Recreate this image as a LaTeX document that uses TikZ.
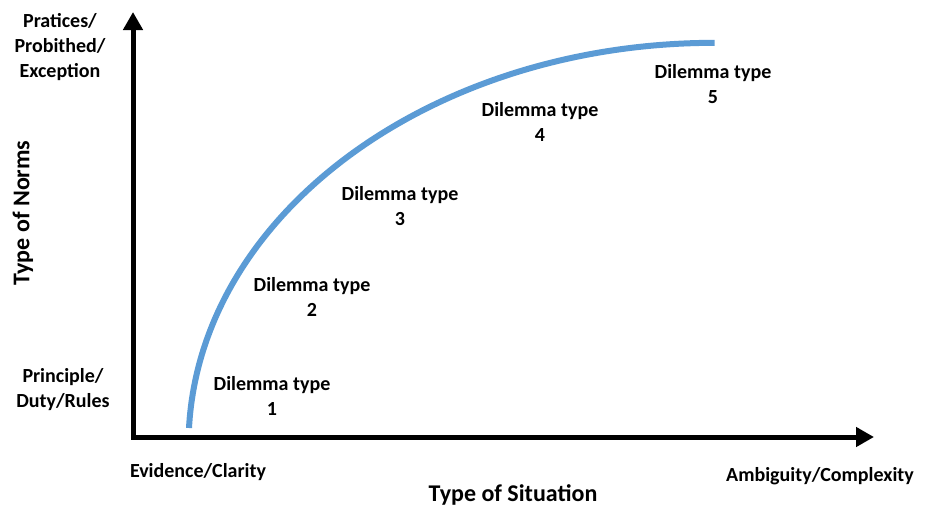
\documentclass[tikz,border=0pt]{standalone}
\usepackage{fontspec}
\setmainfont{Carlito}
\usetikzlibrary{arrows.meta}
\definecolor{curveblue}{HTML}{5B9BD5}
\tikzset{
  lbl/.style={font=\fontsize{20}{25}\selectfont\bfseries, align=center, inner sep=0pt},
  title/.style={font=\fontsize{24}{29}\selectfont\bfseries, align=center, inner sep=0pt},
  axis/.style={line width=5pt, {Triangle[length=18pt,width=19pt]}-{Triangle[length=18pt,width=19pt]}},
  curve/.style={line width=6pt, curveblue}
}
\begin{document}
\begin{tikzpicture}[x=1pt,y=-1pt]
\useasboundingbox (0,0) rectangle (928,506);
\coordinate (ytip) at (133,12);
\coordinate (xtip) at (874,437);
\draw[axis] (ytip) |- (xtip);
\coordinate (cstart) at (189,428);
\draw[curve] (cstart) arc[start angle=182.4, end angle=270, x radius=526, y radius=402];
\node[lbl] (top) at (60,47) {Pratices/\\Probithed/\\Exception};
\node[lbl] (bot) at (63,390) {Principle/\\Duty/Rules};
\node[title, rotate=90] (norms) at (23,213) {Type of Norms};
\node[lbl] (evid) at (198,472) {Evidence/Clarity};
\node[lbl] (ambi) at (820,476) {Ambiguity/Complexity};
\node[title] (sit) at (513,495) {Type of Situation};
\node[lbl] (d1) at (272,396) {Dilemma type\\1};
\node[lbl] (d2) at (312,297) {Dilemma type\\2};
\node[lbl] (d3) at (400,206) {Dilemma type\\3};
\node[lbl] (d4) at (540,122) {Dilemma type\\4};
\node[lbl] (d5) at (713,84) {Dilemma type\\5};
\end{tikzpicture}
\end{document}
